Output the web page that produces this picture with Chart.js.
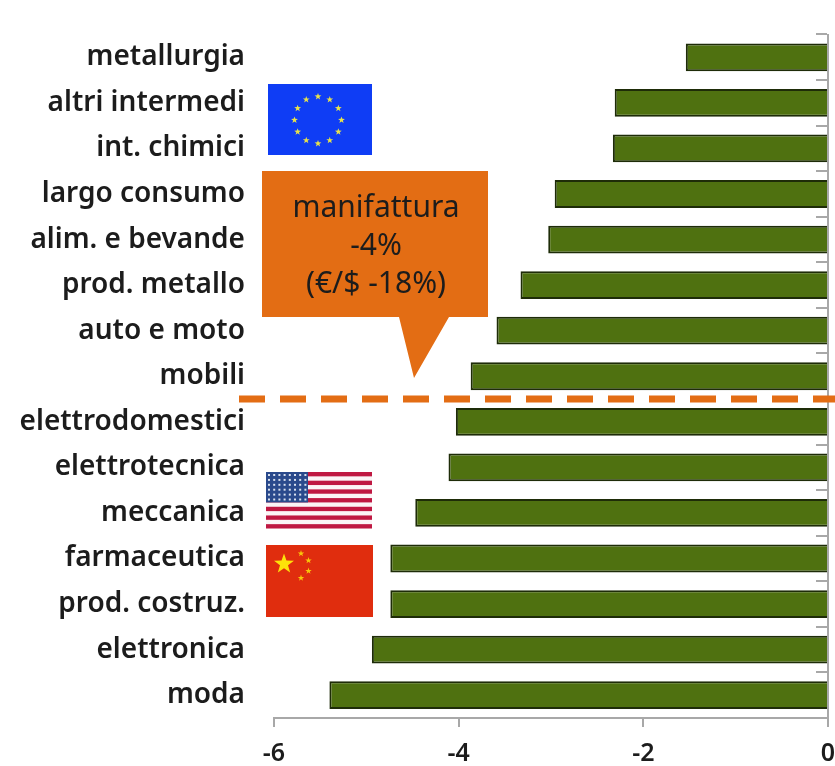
<!DOCTYPE html>
<html lang="it">
<head>
<meta charset="utf-8">
<title>Manifattura</title>
<style>
  html, body { margin: 0; padding: 0; background: #fff; }
  canvas { display: block; }
</style>
<script src="https://cdn.jsdelivr.net/npm/chart.js@4"></script>
</head>
<body>
<canvas id="chart" width="835" height="766"></canvas>
<script>
// Variazioni settoriali della manifattura
const categories = ['metallurgia', 'altri intermedi', 'int. chimici', 'largo consumo', 'alim. e bevande',
  'prod. metallo', 'auto e moto', 'mobili', 'elettrodomestici', 'elettrotecnica', 'meccanica',
  'farmaceutica', 'prod. costruz.', 'elettronica', 'moda'];
const values = [-1.54, -2.31, -2.33, -2.96, -3.03, -3.33, -3.59, -3.87, -4.03, -4.11, -4.47, -4.74, -4.74, -4.94, -5.40];
const calloutLines = ['manifattura', '-4%', '(€/$ -18%)'];
const dividerAfterCategory = 7.5;

const AXIS_GREY = '#a8a8a8';
const ORANGE = '#e36d14';
const INK = '#1c1c1c';
const FONT_FAMILY = '"Noto Sans", sans-serif';

// Labels may overhang the plot area, so scales reserve no extra room for them
function noOverhang(scale) {
  scale.paddingLeft = scale.paddingRight = scale.paddingTop = scale.paddingBottom = 0;
}

function star(ctx, cx, cy, r, color) {
  ctx.beginPath();
  for (let i = 0; i < 10; i++) {
    const rad = i % 2 ? r * 0.4 : r;
    const a = -Math.PI / 2 + i * Math.PI / 5;
    ctx.lineTo(cx + rad * Math.cos(a), cy + rad * Math.sin(a));
  }
  ctx.closePath();
  ctx.fillStyle = color;
  ctx.fill();
}

function drawEuFlag(ctx) {
  ctx.fillStyle = '#0f3df5';
  ctx.fillRect(268, 84, 104, 71);
  for (let i = 0; i < 12; i++) {
    const a = i * Math.PI / 6;
    star(ctx, 318 + 23.5 * Math.sin(a), 120 - 23.5 * Math.cos(a), 3.6, '#e8e24a');
  }
}

function drawUsFlag(ctx) {
  const x = 266, y = 472, w = 106, h = 56.5, sh = h / 13;
  ctx.fillStyle = '#fbf4f6';
  ctx.fillRect(x, y, w, h);
  ctx.fillStyle = '#bf1842';
  for (let i = 0; i < 13; i += 2) ctx.fillRect(x, y + i * sh, w, sh);
  ctx.fillStyle = '#2a4a8c';
  ctx.fillRect(x, y, 42, 7 * sh);
  ctx.fillStyle = '#d8e0ee';
  for (let r = 0; r < 6; r++) {
    for (let c = 0; c < 8; c++) {
      ctx.fillRect(x + 2 + c * 5.2, y + 2 + r * 4.9, 2, 2);
    }
  }
}

function drawChinaFlag(ctx) {
  ctx.fillStyle = '#e02d0e';
  ctx.fillRect(266, 545, 107, 72);
  star(ctx, 284, 564, 10.5, '#fde20a');
  [[301, 553.5], [308.5, 560.5], [308.5, 571], [301, 578]].forEach(function (p) {
    star(ctx, p[0], p[1], 3.4, '#f9c70a');
  });
}

function drawCallout(ctx) {
  ctx.fillStyle = ORANGE;
  ctx.beginPath();
  ctx.moveTo(262, 171);
  ctx.lineTo(488, 171);
  ctx.lineTo(488, 317);
  ctx.lineTo(449, 317);
  ctx.lineTo(414, 378);
  ctx.lineTo(399, 317);
  ctx.lineTo(262, 317);
  ctx.closePath();
  ctx.fill();
  ctx.fillStyle = INK;
  ctx.font = '30px ' + FONT_FAMILY;
  ctx.textAlign = 'center';
  ctx.textBaseline = 'middle';
  calloutLines.forEach(function (line, i) {
    ctx.fillText(line, 376, 208 + i * 38);
  });
}

const decorations = {
  id: 'decorations',
  afterDraw(chart) {
    const ctx = chart.ctx;
    ctx.save();
    drawEuFlag(ctx);
    drawUsFlag(ctx);
    drawChinaFlag(ctx);
    drawCallout(ctx);
    const y = chart.scales.y.getPixelForValue(dividerAfterCategory);
    ctx.strokeStyle = ORANGE;
    ctx.lineWidth = 7;
    ctx.setLineDash([26, 15]);
    ctx.beginPath();
    ctx.moveTo(239, y);
    ctx.lineTo(835, y);
    ctx.stroke();
    ctx.restore();
  }
};

new Chart(document.getElementById('chart'), {
  type: 'bar',
  data: {
    labels: categories,
    datasets: [{
      data: values,
      backgroundColor: '#4f7110',
      borderColor: '#1e2c08',
      borderWidth: 2,
      categoryPercentage: 1,
      barPercentage: 0.61
    }]
  },
  options: {
    indexAxis: 'y',
    responsive: false,
    animation: false,
    layout: { autoPadding: false, padding: { top: 34.5, right: 7, left: 0, bottom: 0 } },
    plugins: { legend: { display: false }, tooltip: { enabled: false } },
    scales: {
      x: {
        min: -6,
        max: 0,
        position: 'bottom',
        afterFit(scale) { scale.height = 48; noOverhang(scale); },
        grid: { drawOnChartArea: false, color: AXIS_GREY, lineWidth: 2, tickLength: 9 },
        border: { color: AXIS_GREY, width: 2 },
        ticks: {
          stepSize: 2,
          maxRotation: 0,
          padding: 12,
          color: INK,
          font: { family: FONT_FAMILY, size: 25, weight: '600' }
        }
      },
      y: {
        position: 'left',
        afterFit(scale) { scale.width = 274; noOverhang(scale); },
        grid: { display: false },
        border: { display: false },
        ticks: {
          autoSkip: false,
          padding: 21,
          color: INK,
          font: { family: FONT_FAMILY, size: 28, weight: '600' }
        }
      },
      zeroLine: {
        type: 'category',
        axis: 'y',
        labels: categories,
        offset: true,
        position: { x: 0 },
        afterFit(scale) { scale.width = 0; noOverhang(scale); },
        grid: { offset: true, drawOnChartArea: false, color: AXIS_GREY, lineWidth: 2, tickLength: 11 },
        border: { color: AXIS_GREY, width: 2 },
        ticks: { display: false, autoSkip: false }
      }
    }
  },
  plugins: [decorations]
});
</script>
</body>
</html>
